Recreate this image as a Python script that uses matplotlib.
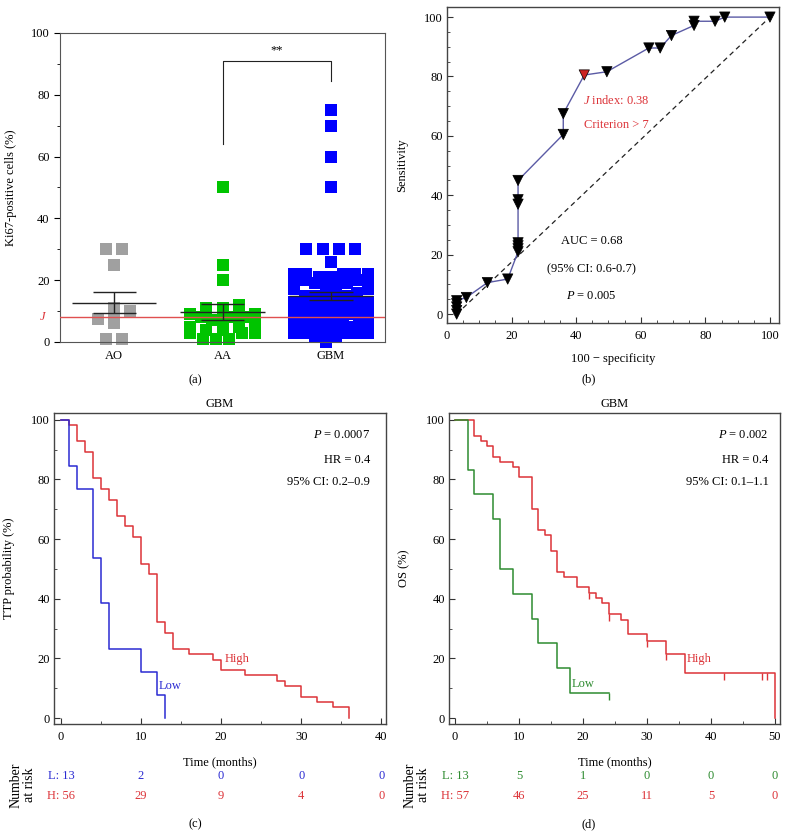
import numpy as np
import matplotlib
matplotlib.use('Agg')
import matplotlib.pyplot as plt
from matplotlib.ticker import MultipleLocator
from matplotlib.transforms import blended_transform_factory

plt.rcParams['font.family'] = ['Liberation Serif', 'DejaVu Serif']
plt.rcParams['font.size'] = 9
plt.rcParams['mathtext.fontset'] = 'custom'
plt.rcParams['mathtext.rm'] = 'Liberation Serif'
plt.rcParams['mathtext.it'] = 'Liberation Serif:italic'

# ---- (a) Ki67-positive cells per group
groups = ['AO', 'AA', 'GBM']
ao = [30, 30, 25, 11, 10, 7.5, 7, 6, 1, 1]
aa = [50, 25, 20, 12, 11, 11, 9, 9, 8, 8, 8, 7, 7, 6, 5, 5, 4, 4, 3, 3, 3, 1, 1, 1]
gbm = [75, 70, 60, 50, 30, 30, 30, 30, 26,
       21, 21, 22, 22, 22, 22, 22,
       18, 18, 19, 19, 20, 20, 20, 20,
       14, 14, 15, 15, 15, 16, 17, 17,
       11, 11, 12, 12, 12, 13, 13, 13,
       7, 7, 8, 8, 8, 9, 9, 10, 10, 10,
       4, 4, 5, 5, 5, 5, 6, 6, 6, 6,
       0, 2, 2, 3, 3, 3, 3, 3]
means = [12.7, 9.7, 14.9]
sems = [3.4, 2.6, 1.4]
j_cut = 8

# ---- (b) ROC curve
fpr = [3, 3, 3, 3, 3, 6, 12.5, 18.8, 22, 22, 22, 22, 22, 22, 22, 36, 36, 42.5,
       49.5, 62.5, 66, 69.5, 76.5, 76.5, 83, 86, 100]
tpr = [0, 1.2, 2.4, 3.5, 4.5, 5.6, 10.6, 11.8, 21, 22, 23, 24, 37, 38.5, 45,
       60.5, 67.5, 80.5, 81.6, 89.6, 89.6, 93.8, 97.2, 98.6, 98.6, 100, 100]
j_point = (42.5, 80.5)

# ---- (c) TTP
t_hi_c = [0, 1, 2, 3, 4, 5, 6, 7, 8, 9, 10, 11, 12, 13, 14, 16, 19, 20, 23, 27, 28, 30, 32, 34, 36]
s_hi_c = [100, 98.2, 92.9, 89.3, 80.4, 76.8, 73.2, 67.9, 64.3, 60.7, 51.8, 48.2, 32.1, 28.6,
          23.2, 21.4, 19.6, 16.1, 14.3, 12.5, 10.7, 7.1, 5.4, 3.6, 0]
t_lo_c = [0, 1, 2, 4, 5, 6, 10, 12, 13]
s_lo_c = [100, 84.6, 76.9, 53.8, 38.5, 23.1, 15.4, 7.7, 0]
risk_t_c = [0, 10, 20, 30, 40]
risk_lo_c = [13, 2, 0, 0, 0]
risk_hi_c = [56, 29, 9, 4, 0]

# ---- (d) OS
t_hi_d = [0, 3, 4, 5, 6, 7, 9, 10, 12, 13, 14, 15, 16, 17, 19, 21, 22, 23, 24, 26, 27, 30, 33, 36, 50]
s_hi_d = [100, 94.7, 93.0, 91.2, 87.7, 86.0, 84.2, 80.7, 70.2, 63.2, 61.4, 56.1, 49.1, 47.4,
          43.9, 42.1, 40.4, 38.6, 34.8, 32.9, 28.2, 26.0, 21.5, 15.1, 0]
cens_hi_d = [21, 24, 30, 33, 42, 48, 48.7]
t_lo_d = [0, 2, 3, 6, 7, 9, 12, 13, 16, 18, 24]
s_lo_d = [100, 83.3, 75, 66.7, 50, 41.7, 33.3, 25, 16.7, 8.3, 8.3]
cens_lo_d = [24]
risk_t_d = [0, 10, 20, 30, 40, 50]
risk_lo_d = [13, 5, 1, 0, 0, 0]
risk_hi_d = [57, 46, 25, 11, 5, 0]

RED = '#dc3338'
BLUE_C = '#2b2bd2'
GREEN_D = '#2e8b30'

W, H = 788, 838


def rect(l, t, r, b):
    return [l / W, 1 - b / H, (r - l) / W, (b - t) / H]


def swarm(vals, binw=3.5, step=0.15, half=0.33):
    # simple scatter-dot layout: values in one row spread side by side,
    # the lowest value of a row sits in the middle
    vals = np.asarray(vals, float)
    off = np.zeros(len(vals))
    rows = np.floor(vals / binw)
    for r in np.unique(rows):
        idx = np.where(rows == r)[0]
        idx = idx[np.argsort(vals[idx], kind='stable')]
        k = len(idx)
        pos = (np.arange(k) - (k - 1) / 2) * step
        if k > 1 and pos[-1] > half:
            pos = np.linspace(-half, half, k)
        pos = pos[np.argsort(np.abs(pos) + 1e-6 * pos, kind='stable')]
        off[idx] = pos
    return off


def step_at(t, times, surv):
    i = np.searchsorted(times, t, side='right') - 1
    return np.asarray(surv)[i]


def style_in(ax, xminor, yminor):
    for sp in ax.spines.values():
        sp.set_color('#444444')
        sp.set_linewidth(1)
    ax.xaxis.set_minor_locator(MultipleLocator(xminor))
    ax.yaxis.set_minor_locator(MultipleLocator(yminor))
    ax.tick_params(which='both', direction='in', top=False, right=False, color='#333333')
    ax.tick_params(which='major', length=4, pad=3)
    ax.tick_params(which='minor', length=2.5)
    ax.tick_params(axis='x', which='major', pad=5)


fig = plt.figure(figsize=(W / 100, H / 100), dpi=100)

# ================= (a)
ax = fig.add_axes(rect(60, 33, 385, 342))
cols = ['#a0a0a0', '#00c400', '#0000ff']
for i, (vals, c) in enumerate(zip([ao, aa, gbm], cols)):
    half = 0.30 if i < 2 else 0.34
    x = i + swarm(vals, half=half)
    ax.scatter(x, vals, marker='s', s=64, color=c, linewidths=0, clip_on=False, zorder=2)
    m, s = means[i], sems[i]
    ax.hlines(m, i - 0.39, i + 0.39, color='#222222', lw=1, zorder=4)
    ax.hlines([m - s, m + s], i - 0.2, i + 0.2, color='#222222', lw=1, zorder=4)
    ax.vlines(i, m - s, m + s, color='#222222', lw=1, zorder=4)
ax.axhline(j_cut, color='#e05050', lw=1, zorder=3)
ax.text(-0.04, j_cut, '$J$', color=RED, ha='right', va='center',
        transform=blended_transform_factory(ax.transAxes, ax.transData))
ax.plot([1, 1, 2, 2], [64, 91, 91, 84.5], color='#222222', lw=0.8)
ax.text(1.5, 92.5, '**', ha='center', va='bottom', fontsize=9)
ax.set_xlim(-0.5, 2.5)
ax.set_ylim(0, 100)
ax.set_xticks(range(3))
ax.set_xticklabels(groups)
ax.set_yticks(range(0, 101, 20))
ax.yaxis.set_minor_locator(MultipleLocator(10))
ax.tick_params(axis='x', length=0, pad=6)
ax.tick_params(axis='y', which='major', direction='out', length=4)
ax.tick_params(axis='y', which='minor', direction='out', length=2.5)
for sp in ax.spines.values():
    sp.set_color('#555555')
ax.set_ylabel('Ki67-positive cells (%)')
ax.yaxis.set_label_coords(-0.132, 0.5)

# ================= (b)
ax = fig.add_axes(rect(447, 7, 779, 323))
ax.plot([3, 100], [0, 100], ls='--', color='#222222', lw=0.9, dashes=(4, 3))
ax.plot(fpr, tpr, color='#5b5ba5', lw=1, zorder=2)
mcol = ['#cc2222' if (a, b) == j_point else 'black' for a, b in zip(fpr, tpr)]
ax.scatter(fpr, tpr, marker='v', s=55, c=mcol, linewidths=0.5, edgecolors='black',
           zorder=3, clip_on=False)
ax.text(52.3, 71.8, '$J$ index: 0.38', color=RED, ha='center', va='center')
ax.text(52.3, 63.6, 'Criterion > 7', color=RED, ha='center', va='center')
ax.text(44.8, 24.5, 'AUC = 0.68', ha='center', va='center')
ax.text(44.8, 15.2, '(95% CI: 0.6-0.7)', ha='center', va='center')
ax.text(44.8, 6, '$P$ = 0.005', ha='center', va='center')
ax.set_xlim(0, 102.8)
ax.set_ylim(-3, 103.4)
ax.set_xticks(range(0, 101, 20))
ax.set_yticks(range(0, 101, 20))
style_in(ax, 5, 5)
ax.set_xlabel('100 \u2212 specificity')
ax.xaxis.set_label_coords(0.5, -0.095)
ax.set_ylabel('Sensitivity')
ax.yaxis.set_label_coords(-0.117, 0.5)

# ================= (c) and (d)
panels = [
    (rect(54, 413, 386, 724), (-0.875, 40.6), 'TTP probability (%)',
     [(t_hi_c, s_hi_c, RED, [], 'High', (20.5, 19.8)),
      (t_lo_c, s_lo_c, BLUE_C, [], 'Low', (12.2, 10.8))],
     ('P', '0.0007', '0.2\u20130.9', 38.6), risk_t_c, risk_lo_c, risk_hi_c, BLUE_C, 23),
    (rect(449, 413, 780, 724), (-0.94, 50.8), 'OS (%)',
     [(t_hi_d, s_hi_d, RED, cens_hi_d, 'High', (36.2, 19.8)),
      (t_lo_d, s_lo_d, GREEN_D, cens_lo_d, 'Low', (18.3, 11.4))],
     ('P', '0.002', '0.1\u20131.1', 49.0), risk_t_d, risk_lo_d, risk_hi_d, GREEN_D, 417),
]
for (r, xl, ylab, curves, stats, rt, rlo, rhi, locol, nx) in panels:
    ax = fig.add_axes(r)
    for t, s, c, cens, lab, lpos in curves:
        ax.step(t, s, where='post', color=c, lw=1.1)
        if cens:
            cy = step_at(cens, t, s)
            ax.vlines(cens, cy - 2.2, cy, color=c, lw=1)
        ax.text(lpos[0], lpos[1], lab, color=c, ha='left', va='center')
    ax.text(stats[3], 95, '$P$ = ' + stats[1], ha='right', va='center')
    ax.text(stats[3], 86.7, 'HR = 0.4', ha='right', va='center')
    ax.text(stats[3], 79, '95% CI: ' + stats[2], ha='right', va='center')
    ax.set_xlim(*xl)
    ax.set_ylim(-2, 102.3)
    ax.set_xticks(rt)
    ax.set_yticks(range(0, 101, 20))
    style_in(ax, 5, 10)
    ax.set_title('GBM', fontsize=9, pad=4)
    ax.set_xlabel('Time (months)')
    ax.xaxis.set_label_coords(0.5, -0.103)
    ax.set_ylabel(ylab)
    ax.yaxis.set_label_coords(-0.117, 0.5)
    tr = blended_transform_factory(ax.transData, fig.transFigure)
    for k, (tt, lo, hi) in enumerate(zip(rt, rlo, rhi)):
        ax.text(tt, 1 - 776 / H, ('L: %d' % lo) if k == 0 else str(lo), color=locol,
                ha='center', va='center', transform=tr)
        ax.text(tt, 1 - 796 / H, ('H: %d' % hi) if k == 0 else str(hi), color=RED,
                ha='center', va='center', transform=tr)
    fig.text(nx / W, 1 - 785 / H, 'Number\nat risk', rotation=90, ha='center',
             va='center', fontsize=10, linespacing=1.0)

for lab, xx, yy in [('(a)', 195, 380), ('(b)', 589, 379), ('(c)', 195, 824), ('(d)', 589, 824)]:
    fig.text(xx / W, 1 - yy / H, lab, ha='center', va='center', fontsize=9)

fig.savefig('out.png', dpi=100)
